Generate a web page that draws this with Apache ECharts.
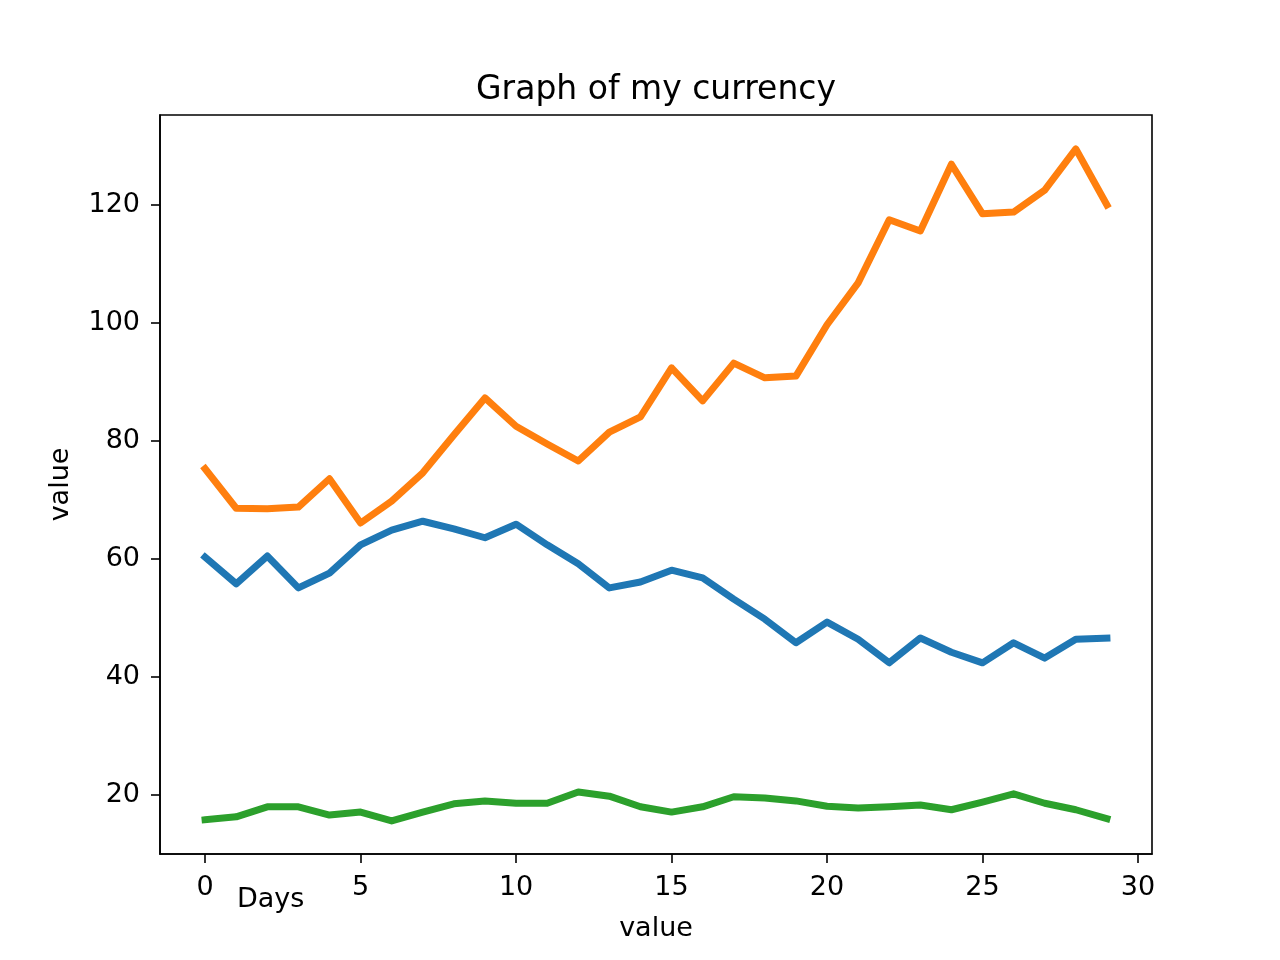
<!DOCTYPE html>
<html>
<head>
<meta charset="utf-8">
<script src="https://cdn.jsdelivr.net/npm/echarts@6/dist/echarts.min.js"></script>
<style>
  html, body { margin: 0; padding: 0; background: #fff; }
  #chart { width: 1280px; height: 960px; }
</style>
</head>
<body>
<div id="chart"></div>
<script>
"use strict";

// day index on the x axis
const days = Array.from({ length: 30 }, (_, i) => i);

const blueValues = [
  60.3, 55.8, 60.5, 55.1, 57.6, 62.4, 64.9, 66.4, 65.1, 63.6,
  65.9, 62.4, 59.2, 55.1, 56.1, 58.1, 56.8, 53.2, 49.8, 45.8,
  49.3, 46.4, 42.4, 46.6, 44.2, 42.4, 45.8, 43.2, 46.4, 46.6
];
const orangeValues = [
  75.3, 68.6, 68.5, 68.8, 73.6, 66.1, 69.8, 74.6, 81.0, 87.3,
  82.5, 79.5, 76.6, 81.5, 84.1, 92.4, 86.8, 93.2, 90.7, 91.0,
  99.7, 106.8, 117.5, 115.6, 126.9, 118.5, 118.8, 122.5, 129.5, 120.0
];
const greenValues = [
  15.8, 16.3, 18.0, 18.0, 16.6, 17.1, 15.6, 17.1, 18.5, 19.0,
  18.6, 18.6, 20.5, 19.8, 18.0, 17.1, 18.0, 19.7, 19.5, 19.0,
  18.1, 17.8, 18.0, 18.3, 17.5, 18.8, 20.2, 18.6, 17.5, 16.0
];

const xTicks = [0, 5, 10, 15, 20, 25, 30];
const yTicks = [20, 40, 60, 80, 100, 120];

const font = "DejaVu Sans";

function makeLine(values, color) {
  return {
    type: "line",
    data: days.map((d, i) => [d, values[i]]),
    showSymbol: false,
    symbol: "none",
    lineStyle: { color, width: 7, cap: "square", join: "round" },
    itemStyle: { color },
    animation: false
  };
}

const axisCommon = {
  axisLine: { show: true, onZero: false, lineStyle: { color: "#000", width: 1.6 } },
  axisTick: { show: true, inside: false, length: 9, lineStyle: { color: "#000", width: 1.6 } },
  splitLine: { show: false },
  nameTextStyle: { fontFamily: font, fontSize: 27, color: "#000" }
};

const chart = echarts.init(document.getElementById("chart"), null, { renderer: "canvas" });

chart.setOption({
  backgroundColor: "#fff",
  animation: false,
  title: {
    text: "Graph of my currency",
    left: 651,
    textAlign: "center",
    top: 69,
    textStyle: { fontFamily: font, fontSize: 33, fontWeight: "normal", color: "#000" }
  },
  grid: {
    left: 160,
    right: 128,
    top: 115,
    bottom: 106,
    show: true,
    borderColor: "#000",
    borderWidth: 1.6,
    containLabel: false
  },
  xAxis: Object.assign({}, axisCommon, {
    type: "value",
    min: -1.45,
    max: 30.45,
    name: "value",
    nameLocation: "middle",
    nameGap: 61,
    axisTick: Object.assign({}, axisCommon.axisTick, { customValues: xTicks }),
    axisLabel: {
      customValues: xTicks,
      margin: 20,
      fontFamily: font,
      fontSize: 27,
      color: "#000"
    }
  }),
  yAxis: Object.assign({}, axisCommon, {
    type: "value",
    min: 10,
    max: 135.25,
    name: "value",
    nameLocation: "middle",
    nameGap: 86,
    axisTick: Object.assign({}, axisCommon.axisTick, { customValues: yTicks }),
    axisLabel: {
      customValues: yTicks,
      margin: 20,
      fontFamily: font,
      fontSize: 27,
      color: "#000"
    }
  }),
  graphic: [
    {
      type: "text",
      left: 237,
      top: 886,
      style: { text: "Days", fontFamily: font, fontSize: 27, fill: "#000" }
    }
  ],
  series: [
    makeLine(blueValues, "#1f77b4"),
    makeLine(orangeValues, "#ff7f0e"),
    makeLine(greenValues, "#2ca02c")
  ]
});
</script>
</body>
</html>
